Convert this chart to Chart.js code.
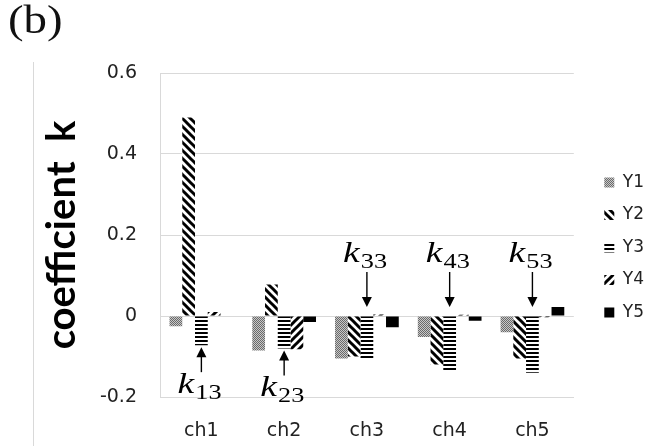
<!DOCTYPE html>
<html>
<head>
<meta charset="utf-8">
<script src="https://cdn.jsdelivr.net/npm/chart.js@4.4.1/dist/chart.umd.min.js"></script>
<style>
  html, body { margin: 0; padding: 0; background: #fff; }
  #wrap { position: relative; width: 666px; height: 446px; overflow: hidden; }
  #chart1 { position: absolute; left: 0; top: 0; }
  #frame { position: absolute; left: 33px; top: 62px; height: 384px; border-left: 1px solid #d9d9d9; }
  #tag { position: absolute; left: 8px; top: -3px; font: 39px "Liberation Serif", serif; color: #111;
         transform: scaleX(1.2); transform-origin: left top; }
</style>
</head>
<body>
<div id="wrap">
  <canvas id="chart1" width="666" height="446"></canvas>
  <div id="frame"></div>
  <div id="tag">(b)</div>
</div>
<script>
'use strict';

const categories = ['ch1', 'ch2', 'ch3', 'ch4', 'ch5'];
const seriesNames = ['Y1', 'Y2', 'Y3', 'Y4', 'Y5'];
const y1 = [-0.025, -0.085, -0.105, -0.052, -0.040];
const y2 = [0.490, 0.078, -0.100, -0.120, -0.105];
const y3 = [-0.072, -0.080, -0.105, -0.138, -0.140];
const y4 = [0.010, -0.082, 0.004, 0.003, -0.003];
const y5 = [0.000, -0.015, -0.028, -0.012, 0.022];
const yTicks = [-0.2, 0, 0.2, 0.4, 0.6];

// labels k_i3 pointing at the Y3 bar of each channel
const arrowNotes = [
  { cat: 0, sub: '13', side: 'below' },
  { cat: 1, sub: '23', side: 'below' },
  { cat: 2, sub: '33', side: 'above' },
  { cat: 3, sub: '43', side: 'above' },
  { cat: 4, sub: '53', side: 'above' }
];

window.addEventListener('load', run);

function run() {
  const ctx = document.getElementById('chart1').getContext('2d');
  const fills = [makePattern(ctx, 'dots'), makePattern(ctx, 'back'), makePattern(ctx, 'hlines'), makePattern(ctx, 'fwd'), '#000'];
  const values = [y1, y2, y3, y4, y5];

  const myChart = new Chart(ctx, {
    type: 'bar',
    data: {
      labels: categories,
      datasets: seriesNames.map((name, i) => ({
        label: name,
        data: values[i],
        backgroundColor: fills[i],
        borderWidth: 0,
        categoryPercentage: 0.77,
        barPercentage: 1.0
      }))
    },
    options: {
      responsive: false,
      animation: false,
      layout: { padding: { left: 0, top: 73, right: 27, bottom: 0 } },
      plugins: {
        tooltip: { enabled: false },
        legend: {
          position: 'right',
          labels: {
            boxWidth: 10,
            boxHeight: 10,
            padding: 15.5,
            color: '#222',
            font: { family: 'DejaVu Sans', size: 17 }
          }
        }
      },
      scales: {
        x: {
          grid: { display: false },
          border: { display: true, color: '#d9d9d9' },
          ticks: { color: '#222', padding: 15, font: { family: 'DejaVu Sans', size: 19 } },
          afterFit: s => { s.height = 49; }
        },
        y: {
          min: -0.2,
          max: 0.6,
          afterBuildTicks: s => { s.ticks = yTicks.map(v => ({ value: v })); },
          grid: { color: '#d9d9d9', drawTicks: false },
          border: { display: true, color: '#d9d9d9' },
          ticks: {
            color: '#222',
            padding: 23,
            font: { family: 'DejaVu Sans', size: 19 },
            callback: v => (v === 0 ? '0' : v.toFixed(1))
          },
          title: {
            display: true,
            text: 'coefficient  k',
            color: '#000',
            padding: { top: 38, bottom: 0 },
            font: { family: 'Lato', size: 40, weight: 'bold' }
          },
          afterFit: s => { s.width = 160; }
        }
      }
    },
    plugins: [legendShift, arrowPlugin]
  });
}

function makePattern(ctx, kind) {
  const c = document.createElement('canvas');
  const g = c.getContext('2d');
  if (kind === 'dots') {
    c.width = c.height = 2;
    g.fillStyle = '#c8c8c8';
    g.fillRect(0, 0, 2, 2);
    g.fillStyle = '#6a6a6a';
    g.fillRect(0, 0, 1, 1);
    g.fillRect(1, 1, 1, 1);
  } else if (kind === 'hlines') {
    c.width = c.height = 4;
    g.fillStyle = '#fff';
    g.fillRect(0, 0, 4, 4);
    g.fillStyle = '#000';
    g.fillRect(0, 0, 4, 2);
  } else {
    const s = 8;
    c.width = c.height = s;
    g.fillStyle = '#fff';
    g.fillRect(0, 0, s, s);
    g.strokeStyle = '#000';
    g.lineWidth = 3;
    g.beginPath();
    if (kind === 'back') {
      g.moveTo(-2, -2); g.lineTo(s + 2, s + 2);
      g.moveTo(-2, s - 2); g.lineTo(2, s + 2);
      g.moveTo(s - 2, -2); g.lineTo(s + 2, 2);
    } else {
      g.moveTo(-2, s + 2); g.lineTo(s + 2, -2);
      g.moveTo(-2, 2); g.lineTo(2, -2);
      g.moveTo(s - 2, s + 2); g.lineTo(s + 2, s - 2);
    }
    g.stroke();
  }
  return ctx.createPattern(c, 'repeat');
}

// push the legend a bit right of the plot and up, as in the figure
const legendShift = {
  id: 'legendShift',
  afterLayout(chart) {
    const l = chart.legend;
    l.left += 15; l.right += 15;
    l.top -= 12; l.bottom -= 12;
  }
};

const arrowPlugin = {
  id: 'arrowNotes',
  afterDatasetsDraw(chart) {
    const ctx = chart.ctx;
    const meta = chart.getDatasetMeta(2);
    const zeroY = chart.scales.y.getPixelForValue(0);
    ctx.save();
    ctx.fillStyle = '#000';
    ctx.strokeStyle = '#000';
    ctx.lineWidth = 1.4;
    arrowNotes.forEach(n => {
      const bar = meta.data[n.cat];
      const x = bar.x;
      let tip, tail, base;
      if (n.side === 'below') {
        tip = Math.max(bar.y, bar.base) + 2;
        tail = tip + 25;
        base = tail + 21;
      } else {
        tip = zeroY - 9;
        tail = zeroY - 44;
        base = zeroY - 54;
      }
      const dir = tip < tail ? 1 : -1;
      ctx.beginPath();
      ctx.moveTo(x, tail);
      ctx.lineTo(x, tip + dir * 9);
      ctx.stroke();
      ctx.beginPath();
      ctx.moveTo(x, tip);
      ctx.lineTo(x - 5, tip + dir * 10);
      ctx.lineTo(x + 5, tip + dir * 10);
      ctx.closePath();
      ctx.fill();

      // the figure's math text is stretched sideways
      ctx.save();
      ctx.translate(x - 24, base);
      ctx.scale(1.25, 1);
      ctx.textAlign = 'left';
      ctx.textBaseline = 'alphabetic';
      ctx.font = 'italic 30px "Liberation Serif"';
      ctx.fillText('k', 0, 0);
      const kw = ctx.measureText('k').width;
      ctx.font = '21px "Liberation Serif"';
      ctx.fillText(n.sub, kw + 1, 6);
      ctx.restore();
    });
    ctx.restore();
  }
};
</script>
</body>
</html>
